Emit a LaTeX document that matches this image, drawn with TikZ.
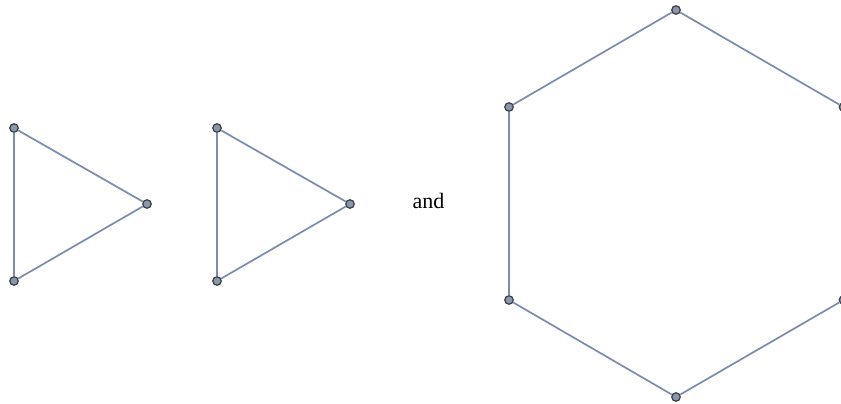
\documentclass[tikz,border=0pt]{standalone}
\usepackage{fontspec}
\setmainfont{Liberation Serif}
\definecolor{edgecol}{HTML}{7A8DAE}
\definecolor{vfill}{HTML}{8A96AA}
\definecolor{vline}{HTML}{3A3F48}
\tikzset{
  vtx/.style={circle,fill=vfill,draw=vline,line width=1.2pt,inner sep=0pt,minimum size=8.5pt},
  edg/.style={draw=edgecol,line width=1.7pt}
}
\begin{document}
\begin{tikzpicture}[x=1pt,y=-1pt]
\clip (0,0) rectangle (841,404);
\fill[white] (0,0) rectangle (841,404);
% triangle 1
\node[vtx] (a1) at (14,128) {};
\node[vtx] (a2) at (147,204) {};
\node[vtx] (a3) at (14,281) {};
% triangle 2
\node[vtx] (b1) at (217,128) {};
\node[vtx] (b2) at (350,204) {};
\node[vtx] (b3) at (217,281) {};
% hexagon
\node[vtx] (h1) at (676,10) {};
\node[vtx] (h2) at (843.5,107) {};
\node[vtx] (h3) at (843.5,300) {};
\node[vtx] (h4) at (676,397) {};
\node[vtx] (h5) at (509,300) {};
\node[vtx] (h6) at (509,107) {};
\node[font=\fontsize{22}{26}\selectfont] (and) at (428.5,201) {and};
\draw[edg] (a1) -- (a2) -- (a3) -- (a1);
\draw[edg] (b1) -- (b2) -- (b3) -- (b1);
\draw[edg] (h1) -- (h2) -- (h3) -- (h4) -- (h5) -- (h6) -- (h1);
\end{tikzpicture}
\end{document}
